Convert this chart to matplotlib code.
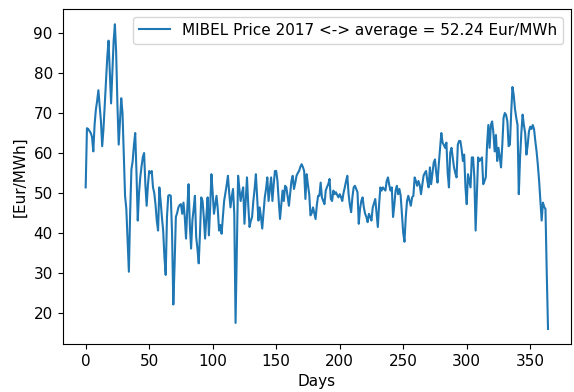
import matplotlib
matplotlib.use("Agg")
import matplotlib.pyplot as plt
import numpy as np

# daily MIBEL price 2017 (Eur/MWh)
price = [
    51.4, 66.2, 66.0, 65.5, 65.0, 64.0, 60.4, 67.0, 70.8, 73.0,
    75.7, 72.0, 68.0, 61.7, 66.0, 72.0, 78.0, 84.0, 88.1, 80.0,
    72.4, 80.0, 88.0, 92.2, 85.0, 72.0, 62.1, 68.0, 73.7, 70.0,
    60.0, 49.3, 46.0, 38.0, 30.3, 45.0, 55.9, 58.0, 62.0, 65.0,
    55.0, 43.1, 50.0, 54.0, 56.7, 59.0, 60.0, 52.0, 46.8, 52.0,
    55.5, 55.0, 55.5, 51.4, 50.0, 47.0, 43.0, 40.6, 51.4, 48.0,
    44.0, 40.6, 34.0, 29.5, 44.0, 49.3, 49.5, 49.3, 40.0, 22.1,
    32.0, 44.0, 45.0, 46.4, 47.0, 47.2, 44.8, 47.6, 44.0, 38.6,
    46.0, 52.2, 42.0, 36.1, 43.1, 46.0, 49.3, 39.0, 36.0, 32.4,
    40.0, 48.9, 48.0, 44.0, 38.6, 44.0, 48.9, 39.4, 46.4, 54.7,
    50.0, 44.8, 47.0, 49.3, 46.0, 40.6, 42.0, 39.8, 44.0, 48.0,
    50.0, 52.0, 54.3, 50.0, 46.4, 49.0, 51.0, 44.8, 17.5, 36.0,
    54.3, 51.0, 48.0, 50.0, 51.4, 42.3, 48.0, 53.9, 47.0, 41.5,
    43.0, 44.0, 48.0, 51.0, 54.7, 49.0, 43.1, 46.4, 44.0, 41.1,
    45.0, 48.9, 51.0, 53.9, 48.0, 51.0, 53.9, 48.0, 52.0, 55.5,
    55.5, 53.0, 48.0, 43.5, 47.0, 50.6, 48.0, 51.8, 51.4, 49.0,
    46.8, 50.0, 53.0, 54.3, 51.0, 52.5, 54.3, 55.0, 55.5, 56.5,
    57.2, 56.5, 55.5, 48.5, 54.7, 52.0, 49.7, 44.4, 45.0, 46.4,
    45.0, 43.5, 47.0, 49.3, 49.3, 52.6, 48.9, 48.0, 47.2, 50.6,
    51.5, 52.2, 53.5, 48.5, 48.0, 50.6, 49.7, 50.2, 49.5, 48.9,
    49.7, 49.0, 48.0, 50.0, 51.4, 53.0, 54.3, 49.7, 47.0, 45.2,
    49.0, 51.4, 51.8, 51.0, 50.2, 42.3, 46.0, 48.0, 48.9, 46.4,
    44.8, 44.0, 42.7, 44.8, 44.0, 43.1, 46.4, 47.5, 48.5, 45.0,
    41.5, 47.0, 51.4, 50.6, 51.4, 51.0, 50.6, 53.0, 53.9, 52.0,
    50.6, 51.4, 44.0, 47.0, 50.6, 51.8, 49.7, 51.0, 49.3, 44.8,
    40.0, 37.8, 44.0, 48.0, 49.3, 48.0, 46.8, 48.9, 49.3, 53.9,
    53.0, 51.8, 53.0, 52.0, 49.7, 52.0, 54.3, 55.0, 55.5, 53.0,
    51.4, 56.4, 52.2, 55.0, 57.6, 58.4, 55.0, 52.6, 57.2, 61.0,
    65.0, 62.6, 62.0, 61.3, 62.6, 55.0, 51.4, 60.0, 61.3, 58.9,
    56.4, 55.0, 53.9, 62.1, 63.0, 63.0, 60.9, 58.0, 59.6, 51.4,
    47.2, 54.7, 53.0, 51.4, 58.9, 58.9, 53.9, 40.6, 50.0, 58.9,
    58.0, 58.4, 58.9, 52.2, 53.0, 53.9, 62.0, 67.0, 61.3, 67.0,
    67.9, 65.0, 60.4, 64.5, 58.0, 61.3, 59.0, 56.4, 62.0, 68.8,
    70.0, 69.5, 67.9, 61.7, 62.1, 70.0, 76.5, 74.5, 71.0, 68.8,
    67.0, 49.7, 58.9, 65.0, 69.6, 67.0, 65.0, 59.6, 62.0, 65.4,
    66.6, 66.0, 67.0, 66.0, 63.0, 60.4, 57.0, 53.0, 48.0, 43.1,
    47.6, 46.5, 46.0, 30.0, 16.0,
]
days = np.arange(len(price))
label = "MIBEL Price 2017 <-> average = 52.24 Eur/MWh"

plt.rcParams['font.size'] = 11

fig, ax = plt.subplots(figsize=(5.74, 3.92), dpi=100)
fig.subplots_adjust(left=0.109, right=0.995, bottom=0.122, top=0.977)

ax.plot(days, price, label=label)
ax.set_xlabel('Days')
ax.set_ylabel('[Eur/MWh]')
ax.legend(loc='upper right')

fig.savefig('out.png')
